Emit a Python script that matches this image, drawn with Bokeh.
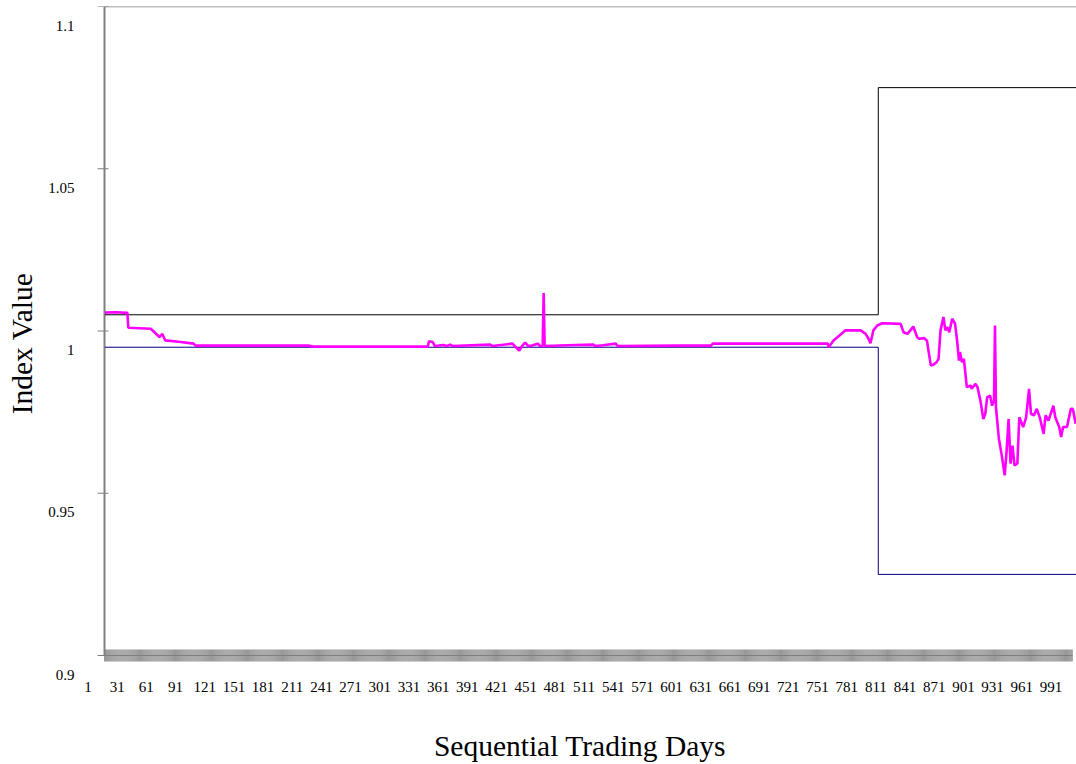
from bokeh.plotting import figure
from bokeh.models import Range1d, FixedTicker, LinearAxis
from bokeh.embed import file_html
from bokeh.resources import INLINE

# ---------------- data ----------------
mag_days = [1, 12, 24, 25, 48, 53, 57, 60, 63, 79, 92, 94, 210, 215, 333, 334, 338, 340,
            349, 352, 356, 358, 397, 399, 420, 422, 427, 430, 433, 436, 440, 446, 448,
            451, 452, 453, 485, 503, 505, 513, 526, 528, 590, 624, 626, 744, 745, 750,
            754, 760, 762, 778, 783, 786, 788, 791, 795, 800, 819, 822, 826, 829, 832,
            836, 838, 843, 846, 850, 853, 856, 858, 860, 863, 865, 867, 869, 872, 875,
            877, 879, 880, 882, 884, 886, 887, 891, 892, 896, 898, 901, 904, 906, 908,
            911, 913, 915, 916, 917, 920, 923, 926, 928, 930, 932, 934, 936, 939, 941,
            945, 948, 951, 953, 956, 959, 962, 966, 968, 971, 976, 978, 982, 984, 986,
            990, 994, 996, 999]
mag_vals = [1.0057, 1.0058, 1.0056, 1.0010, 1.0007, 0.9993, 0.9981, 0.9991, 0.9971, 0.9966,
            0.9961, 0.9955, 0.9955, 0.9952, 0.9952, 0.9968, 0.9966, 0.9954,
            0.9957, 0.9954, 0.9958, 0.9954, 0.9958, 0.9954, 0.9961, 0.9954, 0.9940, 0.9955,
            0.9964, 0.9954, 0.9955, 0.9961, 0.9954,
            0.9954, 1.0117, 0.9954, 0.9957, 0.9958, 0.9954, 0.9956, 0.9961, 0.9954, 0.9955,
            0.9955, 0.9961, 0.9961, 0.9950, 0.9971,
            0.9981, 0.9996, 1.0002, 1.0002, 0.9991, 0.9976, 0.9962, 1.0002, 1.0017, 1.0024,
            1.0022, 0.9996, 0.9991, 1.0002, 1.0014,
            0.9981, 0.9976, 0.9978, 0.9971, 0.9894, 0.9897, 0.9904, 0.9914, 1.0002, 1.0043,
            1.0002, 1.0012, 0.9996, 1.0038, 1.0022,
            0.9971, 0.9909, 0.9935, 0.9904, 0.9914, 0.9858, 0.9827, 0.9832, 0.9822, 0.9837,
            0.9827, 0.9786, 0.9729, 0.9745, 0.9796,
            0.9801, 0.9770, 0.9786, 1.0017, 0.9765, 0.9668, 0.9616, 0.9555, 0.9632, 0.9729,
            0.9591, 0.9647, 0.9586, 0.9591, 0.9734,
            0.9704, 0.9734, 0.9822, 0.9745, 0.9740, 0.9760, 0.9734, 0.9683, 0.9740, 0.9724,
            0.9770, 0.9734, 0.9704, 0.9673, 0.9704,
            0.9704, 0.9760, 0.9760, 0.9714]

band_days = [1, 796, 1000]
upper_band = [1.005, 1.075, 1.075]
lower_band = [0.995, 0.925, 0.925]

n_days = 995
x_tick_labels = ["1", "31", "61", "91", "121", "151", "181", "211", "241", "271", "301",
                 "331", "361", "391", "421", "451", "481", "511", "541", "571", "601",
                 "631", "661", "691", "721", "751", "781", "811", "841", "871", "901",
                 "931", "961", "991"]
y_ticks = [0.9, 0.95, 1.0, 1.05, 1.1]
y_tick_labels = ["0.9", "0.95", "1", "1.05", "1.1"]

FONT = "Liberation Serif"
GREY = "#808080"

# ---------------- geometry (pixels) ----------------
W, H = 1076, 764
FRAME_L, FRAME_T, FRAME_B = 83, 6, 680      # drawing frame
AXIS_X, AXIS_Y = 104, 655                   # where the chart's axes sit
LAB_DX, LAB_DY = 17, 19                     # tick labels sit left / below their ticks
day0, day_right = 0.5, 999.8
y_lo_axis, y_hi_axis = y_ticks[0], y_ticks[-1]
ppd = (W - AXIS_X) / (day_right - day0)
ppu = (AXIS_Y - FRAME_T) / (y_hi_axis - y_lo_axis)
x_lo = day0 - (AXIS_X - FRAME_L) / ppd
y_lo = y_lo_axis - (FRAME_B - AXIS_Y) / ppu
dx, dy = LAB_DX / ppd, LAB_DY / ppu

p = figure(width=W, height=H, output_backend="svg", toolbar_location=None,
           x_range=Range1d(x_lo, day_right), y_range=Range1d(y_lo, y_hi_axis),
           min_border_left=FRAME_L, min_border_right=0, min_border_top=FRAME_T,
           min_border_bottom=H - FRAME_B, x_axis_location=None, y_axis_location=None)
p.xgrid.visible = False
p.ygrid.visible = False
p.outline_line_color = None
p.background_fill_color = "white"
p.border_fill_color = "white"
p.extra_x_ranges = {"xlab": Range1d(x_lo + dx, day_right + dx)}
p.extra_y_ranges = {"ylab": Range1d(y_lo + dy, y_hi_axis + dy)}

# ---------------- axis lines and tick marks ----------------
# y axis line and its crossing ticks
p.segment(x0=[day0], y0=[y_lo_axis], x1=[day0], y1=[y_hi_axis], line_color=GREY, line_width=2)
p.segment(x0=[day0 - 7 / ppd] * len(y_ticks), x1=[day0 + 4 / ppd] * len(y_ticks),
          y0=y_ticks, y1=y_ticks, line_color=GREY, line_width=1)
# top border
p.segment(x0=[day0], y0=[y_hi_axis], x1=[day_right], y1=[y_hi_axis], line_color=GREY,
          line_width=1.5)
# x axis line with one tick between each pair of trading days
hatch = [k + 0.5 for k in range(n_days + 1)]
p.segment(x0=[day0], y0=[y_lo_axis], x1=[hatch[-1]], y1=[y_lo_axis], line_color=GREY,
          line_width=1)
p.segment(x0=hatch, x1=hatch, y0=[y_lo_axis - 6 / ppu] * len(hatch),
          y1=[y_lo_axis + 6 / ppu] * len(hatch), line_color=GREY, line_width=1,
          line_alpha=0.8)

# ---------------- tick labels and titles (real axes, offset ranges) ----------------
label_style = dict(axis_line_color=None, major_tick_line_color=None,
                   minor_tick_line_color=None, major_tick_out=0, major_tick_in=0,
                   minor_tick_out=0, minor_tick_in=0,
                   major_label_text_font=FONT, major_label_text_font_size="15px",
                   major_label_text_color="black",
                   axis_label_text_font=FONT, axis_label_text_font_size="29.5px",
                   axis_label_text_font_style="normal", axis_label_text_color="black")
yl = LinearAxis(y_range_name="ylab", ticker=FixedTicker(ticks=y_ticks),
                major_label_overrides={t: s for t, s in zip(y_ticks, y_tick_labels)},
                major_label_standoff=AXIS_X - FRAME_L - 12 + 0,
                axis_label="Index Value", axis_label_standoff=7, **label_style)
p.add_layout(yl, "left")
xl = LinearAxis(x_range_name="xlab", ticker=FixedTicker(ticks=[int(t) for t in x_tick_labels]),
                major_label_overrides={int(t): t for t in x_tick_labels},
                major_label_standoff=1,
                axis_label="Sequential Trading Days", axis_label_standoff=35, **label_style)
p.add_layout(xl, "below")

# ---------------- series ----------------
p.step(band_days, upper_band, mode="after", line_color="black", line_width=1)
p.step(band_days, lower_band, mode="after", line_color="#000080", line_width=1)
p.line(mag_days, mag_vals, line_color="#FF00FF", line_width=2.6)

open("out.html", "w").write(file_html(p, INLINE))
